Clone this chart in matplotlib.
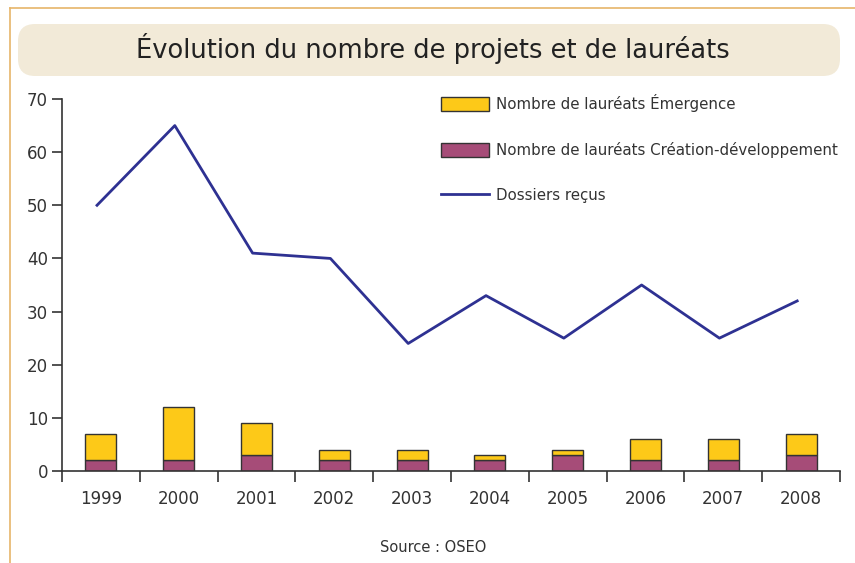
import numpy as np
import matplotlib.pyplot as plt
from matplotlib.patches import FancyBboxPatch
from matplotlib.lines import Line2D

# Données
annees = ['1999', '2000', '2001', '2002', '2003', '2004', '2005', '2006', '2007', '2008']
creation = [2, 2, 3, 2, 2, 2, 3, 2, 2, 3]
emergence = [5, 10, 6, 2, 2, 1, 1, 4, 4, 4]
dossiers = [50, 65, 41, 40, 24, 33, 25, 35, 25, 32]

jaune = '#fdc918'
violet = '#a64c78'
bleu = '#2e3192'
gris = '#333333'

plt.rcParams['font.family'] = ['DejaVu Sans']

fig = plt.figure(figsize=(8.55, 5.63), dpi=100)

# cadre orangé en haut et à gauche
fig.add_artist(Line2D([10 / 855, 10 / 855], [0, 1 - 8 / 563], color='#e6b56a', lw=1.2))
fig.add_artist(Line2D([10 / 855, 1], [1 - 8 / 563, 1 - 8 / 563], color='#e6b56a', lw=1.2))

# bandeau du titre
boite = FancyBboxPatch((18 / 855, 1 - 76 / 563), 822 / 855, 52 / 563,
                       boxstyle='round,pad=0,rounding_size=0.02',
                       transform=fig.transFigure, facecolor='#f2ead8',
                       edgecolor='none', mutation_aspect=855 / 563)
fig.add_artist(boite)
fig.text(433 / 855, 1 - 49 / 563, 'Évolution du nombre de projets et de lauréats',
         ha='center', va='center', fontsize=18.5, color='#222222')

ax = fig.add_axes([62 / 855, 92 / 563, 778 / 855, 372 / 563])
x = np.arange(len(annees))

ax.bar(x, creation, width=0.4, color=violet, edgecolor=gris, linewidth=1,
       label='Nombre de lauréats Création-développement', zorder=2)
ax.bar(x, emergence, width=0.4, bottom=creation, color=jaune, edgecolor=gris,
       linewidth=1, label='Nombre de lauréats Émergence', zorder=2)
ax.plot(x - 0.05, dossiers, color=bleu, lw=2, label='Dossiers reçus', zorder=3)

ax.set_xlim(-0.5, len(annees) - 0.5)
ax.set_ylim(0, 70)
ax.set_yticks(range(0, 71, 10))
ax.set_xticks(np.arange(-0.5, len(annees), 1))
ax.set_xticklabels([])
ax.set_xticks(x, minor=True)
ax.set_xticklabels(annees, minor=True)
ax.tick_params(axis='x', which='minor', length=0, pad=14, labelsize=12, colors='#333333')
ax.tick_params(axis='x', which='major', length=8, width=1.2, color=gris)
ax.tick_params(axis='y', length=7, width=1.2, color=gris, labelsize=12,
               labelcolor='#333333', pad=3)
for s in ['top', 'right']:
    ax.spines[s].set_visible(False)
for s in ['left', 'bottom']:
    ax.spines[s].set_color(gris)
    ax.spines[s].set_linewidth(1.2)

handles, labels = ax.get_legend_handles_labels()
ordre = [2, 1, 0]
ax.legend([handles[i] for i in ordre], [labels[i] for i in ordre],
          loc='upper left', bbox_to_anchor=(0.479, 1.03), frameon=False,
          fontsize=10.8, handlelength=3.2, handleheight=1.1, labelspacing=2.0,
          handletextpad=0.5, labelcolor='#333333', borderaxespad=0)

fig.text(433 / 855, 1 - 547 / 563, 'Source : OSEO', ha='center', va='center',
         fontsize=10.5, color='#333333')

fig.savefig('out.png', dpi=100)
